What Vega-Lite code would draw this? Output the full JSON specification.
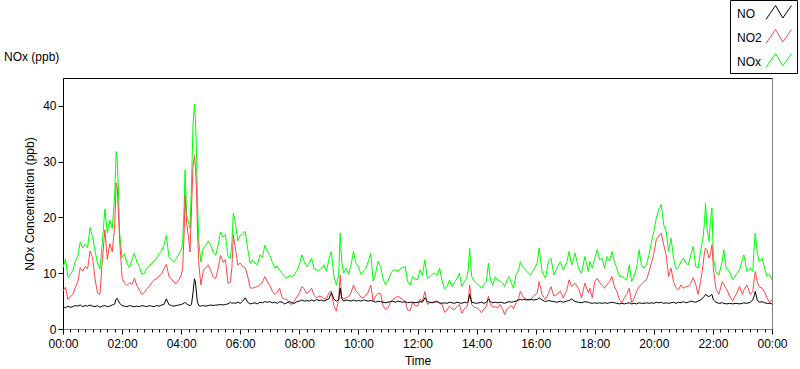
{
"$schema": "https://vega.github.io/schema/vega-lite/v6.json",
"width": 709, "height": 251,
"autosize": "none",
"padding": {"left": 63, "top": 78, "right": 28, "bottom": 40},
"background": "white",
"config": {"font": "Liberation Sans", "view": {"stroke": "#808080", "strokeWidth": 1}},
"title": {"text": "NOx (ppb)", "anchor": "start", "frame": "group", "dx": -59, "offset": 12, "dy": 76, "fontSize": 12, "fontWeight": "normal", "color": "black"},
"data": {"values": [
{"t":0,"NO":4.0,"NO2":6.8,"NOx":11.0},{"t":5,"NO":3.8,"NO2":7.5,"NOx":12.6},{"t":10,"NO":4.1,"NO2":5.3,"NOx":9.3},{"t":15,"NO":3.9,"NO2":5.8,"NOx":9.8},{"t":20,"NO":4.0,"NO2":6.2,"NOx":10.5},{"t":25,"NO":4.2,"NO2":7.4,"NOx":12.2},{"t":30,"NO":4.1,"NO2":8.5,"NOx":13.0},{"t":35,"NO":4.3,"NO2":11.0,"NOx":15.6},{"t":40,"NO":4.0,"NO2":10.4,"NOx":14.5},{"t":45,"NO":4.2,"NO2":11.2,"NOx":15.2},{"t":50,"NO":4.1,"NO2":10.8,"NOx":14.6},{"t":55,"NO":4.3,"NO2":14.0,"NOx":18.2},{"t":60,"NO":4.1,"NO2":12.8,"NOx":16.5},{"t":65,"NO":4.0,"NO2":9.0,"NOx":14.0},{"t":70,"NO":4.2,"NO2":6.5,"NOx":11.8},{"t":75,"NO":3.9,"NO2":6.2,"NOx":10.8},{"t":80,"NO":4.1,"NO2":12.5,"NOx":15.5},{"t":85,"NO":4.2,"NO2":17.8,"NOx":21.5},{"t":90,"NO":4.0,"NO2":12.5,"NOx":17.2},{"t":95,"NO":4.1,"NO2":15.3,"NOx":19.5},{"t":100,"NO":4.3,"NO2":13.8,"NOx":18.0},{"t":105,"NO":4.5,"NO2":18.5,"NOx":24.0},{"t":108,"NO":5.4,"NO2":26.2,"NOx":31.8},{"t":110,"NO":5.5,"NO2":25.5,"NOx":30.5},{"t":113,"NO":5.0,"NO2":20.0,"NOx":24.0},{"t":115,"NO":4.6,"NO2":16.0,"NOx":17.2},{"t":120,"NO":4.2,"NO2":9.2,"NOx":12.8},{"t":125,"NO":4.1,"NO2":8.2,"NOx":13.5},{"t":130,"NO":4.0,"NO2":7.8,"NOx":11.8},{"t":135,"NO":4.2,"NO2":8.3,"NOx":11.0},{"t":140,"NO":4.1,"NO2":8.0,"NOx":12.4},{"t":145,"NO":4.0,"NO2":9.1,"NOx":13.6},{"t":150,"NO":4.1,"NO2":7.8,"NOx":12.0},{"t":155,"NO":4.0,"NO2":7.0,"NOx":11.2},{"t":160,"NO":4.2,"NO2":6.2,"NOx":9.8},{"t":165,"NO":4.1,"NO2":6.5,"NOx":10.0},{"t":170,"NO":4.0,"NO2":7.2,"NOx":10.9},{"t":175,"NO":4.2,"NO2":7.6,"NOx":11.2},{"t":180,"NO":4.1,"NO2":8.3,"NOx":11.8},{"t":185,"NO":4.0,"NO2":8.8,"NOx":12.2},{"t":190,"NO":4.2,"NO2":9.0,"NOx":12.6},{"t":195,"NO":4.1,"NO2":9.5,"NOx":13.5},{"t":200,"NO":4.3,"NO2":9.8,"NOx":14.0},{"t":205,"NO":4.4,"NO2":10.8,"NOx":15.0},{"t":210,"NO":5.4,"NO2":11.6,"NOx":16.8},{"t":215,"NO":4.4,"NO2":9.5,"NOx":13.0},{"t":220,"NO":4.2,"NO2":9.0,"NOx":12.4},{"t":225,"NO":4.1,"NO2":8.4,"NOx":12.0},{"t":230,"NO":4.2,"NO2":8.2,"NOx":12.6},{"t":235,"NO":4.3,"NO2":8.8,"NOx":13.4},{"t":240,"NO":4.4,"NO2":9.6,"NOx":14.2},{"t":243,"NO":4.5,"NO2":11.0,"NOx":15.2},{"t":246,"NO":4.6,"NO2":17.0,"NOx":22.0},{"t":248,"NO":4.8,"NO2":24.0,"NOx":28.5},{"t":251,"NO":4.5,"NO2":19.0,"NOx":20.5},{"t":255,"NO":4.3,"NO2":16.5,"NOx":19.0},{"t":258,"NO":4.2,"NO2":13.8,"NOx":18.0},{"t":261,"NO":4.4,"NO2":21.5,"NOx":26.0},{"t":264,"NO":6.5,"NO2":29.0,"NOx":36.5},{"t":267,"NO":9.0,"NO2":31.2,"NOx":40.3},{"t":269,"NO":8.5,"NO2":29.0,"NOx":37.5},{"t":271,"NO":6.5,"NO2":25.5,"NOx":32.5},{"t":273,"NO":4.8,"NO2":18.0,"NOx":23.0},{"t":276,"NO":4.2,"NO2":11.5,"NOx":15.5},{"t":280,"NO":4.1,"NO2":7.9,"NOx":12.0},{"t":285,"NO":4.2,"NO2":10.5,"NOx":14.5},{"t":290,"NO":4.1,"NO2":11.0,"NOx":15.0},{"t":295,"NO":4.2,"NO2":11.5,"NOx":15.8},{"t":300,"NO":4.3,"NO2":10.5,"NOx":15.0},{"t":305,"NO":4.2,"NO2":9.4,"NOx":13.8},{"t":310,"NO":4.3,"NO2":9.0,"NOx":13.2},{"t":315,"NO":4.3,"NO2":10.8,"NOx":15.0},{"t":320,"NO":4.4,"NO2":13.2,"NOx":17.4},{"t":325,"NO":4.3,"NO2":12.0,"NOx":16.5},{"t":330,"NO":4.4,"NO2":12.4,"NOx":16.9},{"t":335,"NO":4.5,"NO2":8.2,"NOx":13.0},{"t":340,"NO":4.8,"NO2":8.4,"NOx":12.7},{"t":343,"NO":4.6,"NO2":11.0,"NOx":15.5},{"t":346,"NO":4.7,"NO2":16.9,"NOx":20.8},{"t":350,"NO":4.6,"NO2":14.6,"NOx":19.0},{"t":355,"NO":4.8,"NO2":11.5,"NOx":15.8},{"t":360,"NO":4.6,"NO2":11.8,"NOx":16.8},{"t":365,"NO":5.0,"NO2":11.2,"NOx":17.0},{"t":370,"NO":5.6,"NO2":11.0,"NOx":17.5},{"t":375,"NO":4.8,"NO2":9.5,"NOx":14.5},{"t":380,"NO":4.5,"NO2":7.4,"NOx":11.8},{"t":385,"NO":4.6,"NO2":7.3,"NOx":12.4},{"t":390,"NO":4.7,"NO2":7.5,"NOx":11.8},{"t":395,"NO":4.5,"NO2":7.6,"NOx":11.5},{"t":400,"NO":4.8,"NO2":7.9,"NOx":13.3},{"t":405,"NO":4.7,"NO2":8.4,"NOx":12.8},{"t":410,"NO":4.9,"NO2":9.4,"NOx":15.0},{"t":415,"NO":4.8,"NO2":8.5,"NOx":13.9},{"t":420,"NO":4.9,"NO2":7.8,"NOx":13.2},{"t":425,"NO":4.7,"NO2":6.8,"NOx":12.0},{"t":430,"NO":4.8,"NO2":6.2,"NOx":10.9},{"t":435,"NO":4.6,"NO2":6.6,"NOx":11.3},{"t":440,"NO":4.9,"NO2":7.3,"NOx":10.6},{"t":445,"NO":4.8,"NO2":5.6,"NOx":10.0},{"t":450,"NO":4.5,"NO2":5.4,"NOx":9.4},{"t":455,"NO":4.7,"NO2":5.3,"NOx":9.1},{"t":460,"NO":4.9,"NO2":4.6,"NOx":9.6},{"t":465,"NO":4.7,"NO2":4.4,"NOx":9.4},{"t":470,"NO":4.6,"NO2":5.0,"NOx":9.7},{"t":475,"NO":4.9,"NO2":5.8,"NOx":10.5},{"t":480,"NO":5.0,"NO2":6.4,"NOx":11.5},{"t":485,"NO":5.2,"NO2":7.6,"NOx":13.3},{"t":490,"NO":5.0,"NO2":7.2,"NOx":12.1},{"t":495,"NO":5.1,"NO2":6.3,"NOx":11.2},{"t":500,"NO":5.0,"NO2":6.8,"NOx":11.8},{"t":505,"NO":5.2,"NO2":7.3,"NOx":12.7},{"t":510,"NO":5.0,"NO2":6.0,"NOx":10.8},{"t":515,"NO":5.3,"NO2":5.6,"NOx":10.6},{"t":520,"NO":5.1,"NO2":5.9,"NOx":10.5},{"t":525,"NO":5.2,"NO2":5.8,"NOx":10.9},{"t":530,"NO":5.0,"NO2":5.5,"NOx":11.5},{"t":535,"NO":5.2,"NO2":5.3,"NOx":10.3},{"t":540,"NO":5.4,"NO2":6.5,"NOx":12.5},{"t":545,"NO":6.5,"NO2":6.8,"NOx":13.9},{"t":550,"NO":5.4,"NO2":4.2,"NOx":9.6},{"t":555,"NO":5.0,"NO2":3.2,"NOx":7.9},{"t":560,"NO":5.2,"NO2":5.5,"NOx":9.8},{"t":563,"NO":7.3,"NO2":9.7,"NOx":17.2},{"t":566,"NO":5.5,"NO2":5.8,"NOx":12.1},{"t":570,"NO":5.0,"NO2":5.4,"NOx":10.0},{"t":575,"NO":5.2,"NO2":5.6,"NOx":10.9},{"t":580,"NO":5.1,"NO2":5.8,"NOx":9.8},{"t":585,"NO":5.0,"NO2":6.5,"NOx":11.5},{"t":590,"NO":5.2,"NO2":7.9,"NOx":13.9},{"t":595,"NO":5.0,"NO2":6.8,"NOx":11.8},{"t":600,"NO":5.1,"NO2":6.4,"NOx":11.2},{"t":605,"NO":5.0,"NO2":5.7,"NOx":9.8},{"t":610,"NO":5.2,"NO2":5.6,"NOx":10.4},{"t":615,"NO":5.1,"NO2":6.0,"NOx":10.8},{"t":620,"NO":5.0,"NO2":6.6,"NOx":12.1},{"t":625,"NO":5.1,"NO2":7.9,"NOx":13.6},{"t":630,"NO":5.0,"NO2":5.0,"NOx":8.6},{"t":635,"NO":4.8,"NO2":5.9,"NOx":10.0},{"t":640,"NO":5.0,"NO2":6.4,"NOx":12.2},{"t":645,"NO":4.9,"NO2":6.3,"NOx":11.2},{"t":650,"NO":4.8,"NO2":4.2,"NOx":9.0},{"t":655,"NO":4.7,"NO2":3.5,"NOx":7.9},{"t":660,"NO":4.8,"NO2":3.8,"NOx":8.6},{"t":665,"NO":4.9,"NO2":4.8,"NOx":9.8},{"t":670,"NO":5.0,"NO2":5.3,"NOx":10.5},{"t":675,"NO":4.8,"NO2":5.6,"NOx":10.6},{"t":680,"NO":5.0,"NO2":5.9,"NOx":10.3},{"t":685,"NO":4.9,"NO2":5.6,"NOx":10.8},{"t":690,"NO":4.8,"NO2":5.3,"NOx":11.0},{"t":695,"NO":4.9,"NO2":5.0,"NOx":11.2},{"t":700,"NO":4.7,"NO2":3.4,"NOx":8.5},{"t":705,"NO":4.8,"NO2":3.3,"NOx":7.9},{"t":710,"NO":4.8,"NO2":4.8,"NOx":9.4},{"t":715,"NO":4.7,"NO2":4.2,"NOx":9.0},{"t":720,"NO":4.8,"NO2":4.1,"NOx":8.8},{"t":725,"NO":4.9,"NO2":5.3,"NOx":10.6},{"t":730,"NO":4.8,"NO2":5.0,"NOx":9.6},{"t":735,"NO":5.6,"NO2":6.7,"NOx":12.4},{"t":740,"NO":4.9,"NO2":4.4,"NOx":9.1},{"t":745,"NO":4.8,"NO2":4.7,"NOx":9.4},{"t":750,"NO":4.7,"NO2":4.8,"NOx":9.8},{"t":755,"NO":4.8,"NO2":5.0,"NOx":10.0},{"t":760,"NO":4.9,"NO2":5.0,"NOx":9.7},{"t":765,"NO":4.7,"NO2":4.6,"NOx":10.9},{"t":770,"NO":4.6,"NO2":4.4,"NOx":8.6},{"t":775,"NO":4.7,"NO2":3.0,"NOx":7.2},{"t":780,"NO":4.6,"NO2":3.4,"NOx":7.6},{"t":785,"NO":4.8,"NO2":4.1,"NOx":8.8},{"t":790,"NO":4.7,"NO2":3.6,"NOx":7.6},{"t":795,"NO":4.6,"NO2":3.5,"NOx":8.4},{"t":800,"NO":4.8,"NO2":4.0,"NOx":9.0},{"t":805,"NO":4.7,"NO2":4.4,"NOx":10.0},{"t":810,"NO":4.6,"NO2":2.8,"NOx":7.6},{"t":815,"NO":4.8,"NO2":3.6,"NOx":8.4},{"t":820,"NO":4.7,"NO2":3.9,"NOx":9.2},{"t":823,"NO":4.9,"NO2":4.8,"NOx":10.6},{"t":826,"NO":6.2,"NO2":7.9,"NOx":14.5},{"t":830,"NO":4.8,"NO2":4.4,"NOx":9.4},{"t":835,"NO":4.7,"NO2":3.9,"NOx":8.6},{"t":840,"NO":4.6,"NO2":3.8,"NOx":8.2},{"t":845,"NO":4.7,"NO2":3.5,"NOx":7.8},{"t":850,"NO":4.8,"NO2":2.9,"NOx":7.3},{"t":855,"NO":4.6,"NO2":3.6,"NOx":8.0},{"t":860,"NO":4.8,"NO2":4.0,"NOx":8.5},{"t":864,"NO":5.4,"NO2":5.9,"NOx":11.8},{"t":868,"NO":4.9,"NO2":4.4,"NOx":8.8},{"t":873,"NO":4.7,"NO2":3.9,"NOx":7.9},{"t":878,"NO":4.8,"NO2":4.0,"NOx":9.4},{"t":883,"NO":4.7,"NO2":3.8,"NOx":8.8},{"t":888,"NO":4.8,"NO2":4.4,"NOx":8.6},{"t":893,"NO":4.7,"NO2":3.5,"NOx":8.2},{"t":897,"NO":4.6,"NO2":2.6,"NOx":7.6},{"t":902,"NO":4.8,"NO2":3.6,"NOx":8.8},{"t":906,"NO":4.9,"NO2":3.9,"NOx":9.4},{"t":911,"NO":4.8,"NO2":4.2,"NOx":8.2},{"t":915,"NO":4.9,"NO2":3.6,"NOx":7.3},{"t":920,"NO":5.0,"NO2":4.7,"NOx":9.7},{"t":925,"NO":5.2,"NO2":5.4,"NOx":10.5},{"t":929,"NO":5.3,"NO2":6.8,"NOx":12.1},{"t":933,"NO":5.2,"NO2":6.0,"NOx":11.2},{"t":936,"NO":5.3,"NO2":5.6,"NOx":10.9},{"t":942,"NO":5.2,"NO2":5.3,"NOx":10.3},{"t":949,"NO":5.3,"NO2":5.2,"NOx":9.7},{"t":956,"NO":5.2,"NO2":5.9,"NOx":10.6},{"t":963,"NO":5.3,"NO2":6.4,"NOx":11.8},{"t":967,"NO":5.6,"NO2":8.5,"NOx":14.5},{"t":973,"NO":5.2,"NO2":6.2,"NOx":10.3},{"t":980,"NO":4.9,"NO2":5.3,"NOx":9.1},{"t":986,"NO":5.1,"NO2":6.4,"NOx":12.1},{"t":991,"NO":5.0,"NO2":7.6,"NOx":12.7},{"t":997,"NO":4.9,"NO2":5.9,"NOx":9.7},{"t":1003,"NO":4.8,"NO2":6.2,"NOx":10.9},{"t":1010,"NO":5.0,"NO2":6.8,"NOx":12.1},{"t":1016,"NO":4.8,"NO2":5.6,"NOx":10.6},{"t":1023,"NO":5.0,"NO2":6.9,"NOx":11.8},{"t":1028,"NO":5.1,"NO2":8.8,"NOx":13.9},{"t":1033,"NO":5.4,"NO2":7.6,"NOx":11.5},{"t":1040,"NO":4.9,"NO2":8.2,"NOx":13.6},{"t":1047,"NO":4.8,"NO2":7.3,"NOx":10.9},{"t":1053,"NO":4.7,"NO2":5.6,"NOx":10.0},{"t":1060,"NO":4.9,"NO2":8.2,"NOx":13.0},{"t":1067,"NO":4.8,"NO2":6.5,"NOx":10.3},{"t":1070,"NO":4.7,"NO2":7.3,"NOx":12.1},{"t":1075,"NO":4.6,"NO2":5.6,"NOx":10.9},{"t":1080,"NO":4.7,"NO2":8.5,"NOx":12.7},{"t":1085,"NO":4.6,"NO2":9.1,"NOx":14.2},{"t":1090,"NO":4.7,"NO2":8.3,"NOx":12.4},{"t":1095,"NO":4.6,"NO2":7.9,"NOx":12.7},{"t":1100,"NO":4.7,"NO2":7.3,"NOx":10.9},{"t":1105,"NO":4.6,"NO2":8.0,"NOx":13.0},{"t":1110,"NO":4.7,"NO2":8.5,"NOx":12.2},{"t":1115,"NO":4.8,"NO2":9.4,"NOx":13.9},{"t":1120,"NO":4.7,"NO2":7.6,"NOx":12.0},{"t":1125,"NO":4.6,"NO2":6.75,"NOx":10.9},{"t":1130,"NO":4.5,"NO2":5.3,"NOx":9.4},{"t":1135,"NO":4.6,"NO2":4.7,"NOx":9.6},{"t":1140,"NO":4.5,"NO2":5.6,"NOx":9.1},{"t":1145,"NO":4.6,"NO2":6.2,"NOx":8.8},{"t":1150,"NO":4.7,"NO2":7.3,"NOx":11.5},{"t":1155,"NO":4.5,"NO2":4.7,"NOx":8.5},{"t":1160,"NO":4.6,"NO2":5.5,"NOx":9.6},{"t":1165,"NO":4.5,"NO2":6.75,"NOx":10.9},{"t":1170,"NO":4.7,"NO2":7.6,"NOx":14.2},{"t":1175,"NO":4.6,"NO2":8.0,"NOx":11.4},{"t":1180,"NO":4.6,"NO2":8.5,"NOx":10.9},{"t":1185,"NO":4.7,"NO2":8.8,"NOx":11.5},{"t":1190,"NO":4.6,"NO2":10.2,"NOx":13.2},{"t":1195,"NO":4.7,"NO2":11.8,"NOx":15.5},{"t":1200,"NO":4.6,"NO2":13.5,"NOx":17.5},{"t":1205,"NO":4.8,"NO2":16.0,"NOx":19.9},{"t":1210,"NO":4.7,"NO2":16.7,"NOx":21.4},{"t":1215,"NO":4.8,"NO2":17.2,"NOx":22.3},{"t":1220,"NO":4.6,"NO2":15.1,"NOx":18.7},{"t":1225,"NO":4.7,"NO2":13.3,"NOx":17.5},{"t":1230,"NO":4.6,"NO2":9.4,"NOx":13.9},{"t":1235,"NO":4.7,"NO2":10.9,"NOx":16.3},{"t":1240,"NO":4.8,"NO2":8.5,"NOx":12.7},{"t":1245,"NO":4.6,"NO2":7.4,"NOx":10.8},{"t":1250,"NO":4.8,"NO2":7.0,"NOx":11.0},{"t":1255,"NO":4.7,"NO2":7.9,"NOx":12.1},{"t":1260,"NO":4.9,"NO2":7.3,"NOx":12.7},{"t":1265,"NO":4.7,"NO2":7.6,"NOx":11.8},{"t":1270,"NO":4.8,"NO2":7.6,"NOx":11.5},{"t":1275,"NO":5.0,"NO2":8.2,"NOx":13.3},{"t":1280,"NO":4.9,"NO2":9.2,"NOx":14.8},{"t":1285,"NO":4.8,"NO2":8.0,"NOx":11.2},{"t":1290,"NO":5.0,"NO2":6.2,"NOx":10.9},{"t":1295,"NO":5.2,"NO2":8.5,"NOx":14.0},{"t":1300,"NO":5.6,"NO2":11.5,"NOx":16.3},{"t":1303,"NO":5.9,"NO2":13.9,"NOx":19.3},{"t":1305,"NO":6.2,"NO2":14.5,"NOx":22.6},{"t":1308,"NO":6.0,"NO2":14.2,"NOx":18.1},{"t":1312,"NO":5.8,"NO2":12.7,"NOx":15.7},{"t":1315,"NO":6.0,"NO2":13.4,"NOx":19.3},{"t":1318,"NO":6.2,"NO2":15.1,"NOx":21.7},{"t":1321,"NO":5.2,"NO2":10.9,"NOx":12.7},{"t":1326,"NO":4.8,"NO2":7.3,"NOx":10.3},{"t":1332,"NO":4.6,"NO2":6.2,"NOx":9.7},{"t":1339,"NO":4.7,"NO2":8.5,"NOx":12.1},{"t":1342,"NO":4.6,"NO2":8.0,"NOx":14.2},{"t":1347,"NO":4.5,"NO2":7.3,"NOx":10.9},{"t":1354,"NO":4.6,"NO2":5.9,"NOx":10.3},{"t":1360,"NO":4.5,"NO2":5.0,"NOx":8.8},{"t":1367,"NO":4.6,"NO2":6.2,"NOx":9.7},{"t":1374,"NO":4.5,"NO2":7.6,"NOx":10.6},{"t":1380,"NO":4.6,"NO2":6.2,"NOx":12.5},{"t":1383,"NO":4.7,"NO2":7.0,"NOx":13.3},{"t":1389,"NO":4.6,"NO2":7.9,"NOx":10.3},{"t":1396,"NO":4.8,"NO2":6.2,"NOx":10.9},{"t":1401,"NO":5.2,"NO2":6.75,"NOx":10.3},{"t":1404,"NO":6.0,"NO2":9.0,"NOx":15.0},{"t":1406,"NO":6.75,"NO2":10.3,"NOx":17.2},{"t":1410,"NO":5.2,"NO2":8.5,"NOx":13.9},{"t":1414,"NO":4.8,"NO2":7.6,"NOx":12.1},{"t":1420,"NO":4.9,"NO2":7.3,"NOx":12.7},{"t":1425,"NO":4.7,"NO2":6.6,"NOx":10.9},{"t":1430,"NO":4.6,"NO2":5.6,"NOx":9.4},{"t":1435,"NO":4.6,"NO2":4.7,"NOx":9.8},{"t":1440,"NO":4.5,"NO2":5.3,"NOx":8.8}
]},
"layer": [
{"mark": {"type": "line", "strokeWidth": 1},
 "encoding": {
  "x": {"field": "t", "type": "quantitative", "scale": {"domain": [0, 1440], "nice": false, "zero": false},
        "axis": {"orient": "bottom", "values": [0,120,240,360,480,600,720,840,960,1080,1200,1320,1440], "labelExpr": "utcFormat(datum.value*60000, '%H:%M')", "title": "Time", "tickSize": 5, "tickColor": "black", "domainColor": "#808080", "labelColor": "black", "labelFontSize": 12, "titleFontSize": 12, "titleFontWeight": "normal", "titleColor": "black", "labelPadding": 4, "titlePadding": 6, "grid": false, "labelFlush": false, "labelOverlap": false}},
  "y": {"field": "NOx", "type": "quantitative", "title": "NOx Concentration (ppb)", "scale": {"domain": [0, 45], "nice": false},
        "axis": {"values": [0,5,10,15,20,25,30,35,40,45], "tickSize": 5, "tickColor": "black", "domainColor": "black", "labelColor": "black", "labelFontSize": 12, "titleFontSize": 12, "titleFontWeight": "normal", "titleColor": "black", "labelPadding": 2, "titlePadding": 6, "grid": false}},
  "color": {"datum": "NOx", "type": "nominal", "scale": {"domain": ["NO", "NO2", "NOx"], "range": ["#000000", "#ff4545", "#00ff00"]},
        "legend": {"orient": "none", "legendX": 667, "legendY": -78, "title": null, "strokeColor": "black", "fillColor": "white", "padding": 3, "labelFontSize": 12, "labelColor": "black", "symbolType": "M0.12,-0.45L0.45,-0.93L0.7,-0.5L1,-0.93", "symbolSize": 3364, "symbolStrokeWidth": 1, "rowPadding": 5, "labelAlign": "left", "labelOffset": -55,
                   "encode": {"labels": {"update": {"dy": {"value": -19}}}}}}
 }},
{"mark": {"type": "line", "strokeWidth": 1},
 "encoding": {
  "x": {"field": "t", "type": "quantitative", "axis": {"orient": "bottom", "values": [15,30,45,60,75,90,105,135,150,165,180,195,210,225,255,270,285,300,315,330,345,375,390,405,420,435,450,465,495,510,525,540,555,570,585,615,630,645,660,675,690,705,735,750,765,780,795,810,825,855,870,885,900,915,930,945,975,990,1005,1020,1035,1050,1065,1095,1110,1125,1140,1155,1170,1185,1215,1230,1245,1260,1275,1290,1305,1335,1350,1365,1380,1395,1410,1425], "labels": false, "title": null, "tickSize": 3, "tickColor": "black", "domain": false, "grid": false}},
  "y": {"field": "NO2", "type": "quantitative", "title": "NOx Concentration (ppb)"},
  "color": {"datum": "NO2", "type": "nominal"}
 }},
{"mark": {"type": "line", "strokeWidth": 1},
 "encoding": {
  "x": {"field": "t", "type": "quantitative", "axis": {"orient": "top", "labels": false, "ticks": false, "title": null, "domainColor": "black", "grid": false}},
  "y": {"field": "NO", "type": "quantitative", "title": "NOx Concentration (ppb)"},
  "color": {"datum": "NO", "type": "nominal"}
 }}
],
"resolve": {"axis": {"x": "independent"}}
}
